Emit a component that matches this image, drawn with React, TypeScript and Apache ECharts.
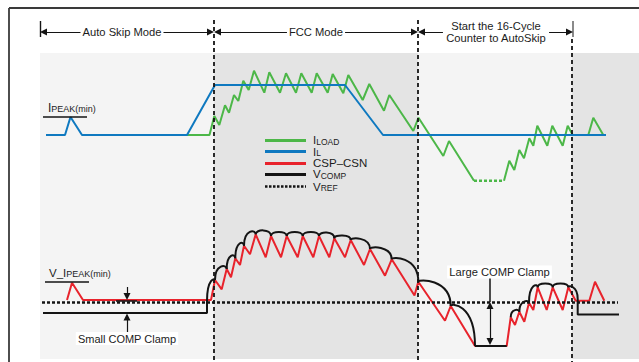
import React, { useEffect, useRef } from "react";
import * as echarts from "echarts";

const W = 639;
const H = 362;
const FONT = "'Liberation Sans', Arial, Helvetica, sans-serif";

// ---------- data (time axis = horizontal units, level axis = vertical units, top = 0) ----------
const modeEdges = [40, 214, 418, 572, 639];
const modeLabels = ["Auto Skip Mode", "FCC Mode", "Start the 16-Cycle\nCounter to AutoSkip"];
const modeLabelX = [122, 316, 496];

const iL = [[46,135],[65,135],[70.5,117],[82,135],[187,135],[215,85],[345,85],[383,135],[606,135]];
const iLoadRise = [[187,135],[209.5,135],[214.3,116],[219.3,125],[225,105.3],[229,112.7],[234,95],[238.3,101],[243.3,80.7],[248.7,90],[254,70.7],[264.3,92.7],[269.3,72.3],[280,92.7],[286,73.3],[296,92.7],[301.3,73.3],[311.7,92.7],[316.7,73.3],[327.7,92.7],[332.7,74],[343.3,93.3],[348.3,75],[362.7,100],[369.3,84],[384,110.7],[389.3,95],[413.3,131],[418.5,117.7],[443.3,156],[449,141],[474,180.7]];
const iLoadSkip = [[474,180.7],[504,180.7]];
const iLoadRecover = [[504,180.7],[509.3,160.7],[514.3,170],[519.3,150],[524,158.3],[529.3,138.3],[533.3,145.7],[537.3,125.7],[547.3,145.7],[552.3,125.7],[562.7,145.7],[567.7,125.7],[572.7,135],[588.3,135],[593.3,117.7],[603.3,135]];

const cspCsn = [[67,300],[72,282.7],[83,300],[211,300],[215,280],[221.7,289.3],[226.7,269],[231,277.3],[235.3,258.3],[240,265],[244,245.7],[250,254.3],[255.7,234.3],[265.7,257.3],[271,236],[281,257.3],[286.7,236],[297.7,257.3],[302.7,236],[313.3,257.3],[319,236],[329.3,257.3],[334.3,238.3],[345,257.3],[350.7,240],[364,265],[370,249],[385,275.7],[391.7,259.3],[414.5,295.5],[418.3,281.7],[445,320.7],[450.7,306],[475,346],[506.7,346],[510.7,317.3],[515,325],[519.3,311.7],[524.3,321.7],[529,302.7],[533.3,310],[537.7,287.3],[546.7,310],[552.7,287.3],[562.7,310],[568.3,287.3],[575.7,300.7],[589.3,300.7],[595,281.7],[604.3,300.7]];

const vCompSkip = [[43,313],[207,313],[207,301]];
const vCompClamp = [[475,346],[506.7,346]];
const vCompExit = [[577.7,299],[577.7,314.5],[619,314.5]];
// [from x, from y, to x, to y, hump height]
const vCompHumps = [
  [207,301,215,280,2],
  [215,280,226.7,269,5],
  [226.7,269,235.3,258.3,5],
  [235.3,258.3,244,245.7,5],
  [244,245.7,255.7,234.3,5],
  [255.7,234.3,271,236,5.5],
  [271,236,286.7,236,5.5],
  [286.7,236,302.7,236,5.5],
  [302.7,236,319,236,5.5],
  [319,236,334.3,238.3,5],
  [334.3,238.3,350.7,240,4],
  [350.7,240,370,249,3],
  [370,249,391.7,259.3,3],
  [391.7,259.3,418.3,281.7,3],
  [418.3,281.7,450.7,306,3],
  [450.7,306,475,346,3],
  [510.7,317.3,519.3,311.7,3],
  [519.3,311.7,529,302.7,3],
  [529,302.7,537.7,287.3,4],
  [537.7,287.3,552.7,287.3,5],
  [552.7,287.3,568.3,287.3,5],
  [568.3,287.3,577.7,299,2],
];
const vRef = [[42,302.5],[618,302.5]];

const legendItems = [
  { main: "I", sub: "LOAD", key: "green" },
  { main: "I", sub: "L", key: "blue" },
  { main: "CSP\u2013CSN", sub: "", key: "red" },
  { main: "V", sub: "COMP", key: "black" },
  { main: "V", sub: "REF", key: "dotted" },
];
const legendRowY = [140, 151.5, 163, 173.8, 186.5];

// ---------- styles ----------
const C = {
  green: "#4cb748",
  blue: "#0f79c0",
  red: "#e8232c",
  black: "#141414",
  text: "#1c1c1c",
  light: "#f4f4f4",
  dark: "#e4e4e4",
};

const PANEL_TOP = 53;
const PANEL_BOTTOM = 359;
const HEAD_Y = 32;
const AH = 7; // arrow head size

let measureCtx: CanvasRenderingContext2D | null = null;
function textWidth(text: string, size: number) {
  if (!measureCtx) measureCtx = document.createElement("canvas").getContext("2d");
  if (!measureCtx) return text.length * size * 0.6;
  measureCtx.font = `${size}px ${FONT}`;
  return measureCtx.measureText(text).width;
}

function lineSeries(data: number[][], color: string, width: number, type: any = "solid", z = 3) {
  return {
    type: "line",
    data,
    showSymbol: false,
    symbol: "none",
    silent: true,
    z,
    lineStyle: { color, width, type },
    animation: false,
  };
}

function segSeries(list: number[][][], color: string, width: number, opts: any = {}) {
  const sym = opts.symbol || "none";
  const inset = (c: number[][]) => {
    const [[x0, y0], [x1, y1]] = c;
    const len = Math.hypot(x1 - x0, y1 - y0) || 1;
    const ux = (x1 - x0) / len;
    const uy = (y1 - y0) / len;
    const s0 = Array.isArray(sym) ? sym[0] !== "none" : sym !== "none";
    const s1 = Array.isArray(sym) ? sym[1] !== "none" : sym !== "none";
    const a0 = s0 ? AH / 2 : 0;
    const a1 = s1 ? AH / 2 : 0;
    return [[x0 + ux * a0, y0 + uy * a0], [x1 - ux * a1, y1 - uy * a1]];
  };
  return {
    type: "lines",
    coordinateSystem: "cartesian2d",
    silent: true,
    z: opts.z ?? 5,
    data: list.map((c) => ({ coords: inset(c) })),
    symbol: sym,
    symbolSize: AH,
    lineStyle: { color, width, opacity: 1, type: opts.type || "solid", curveness: 0 },
    animation: false,
  };
}

function textEl(x: number, y: number, text: string, extra: any = {}) {
  return {
    type: "text",
    x,
    y,
    z: 100,
    silent: true,
    style: {
      text,
      fill: C.text,
      fontSize: 11.2,
      fontFamily: FONT,
      align: "center",
      verticalAlign: "middle",
      ...extra,
    },
  };
}

// main text followed by a lowered, smaller subscript
function subText(x: number, y: number, main: string, sub: string, mainSize = 11.5, subSize = 8.5): any[] {
  const els: any[] = [
    textEl(x, y, main, { align: "left", fontSize: mainSize, lineHeight: 9 }),
  ];
  if (sub) {
    const w = textWidth(main, mainSize);
    els.push(textEl(x + w, y + 1.8, sub, { align: "left", fontSize: subSize, lineHeight: 7 }));
  }
  return els;
}

function buildOption() {
  const bands = modeEdges.slice(0, -1).map((x, i) => [x, modeEdges[i + 1], i % 2]);

  const legendLines: any[] = [];
  legendItems.forEach((it, i) => {
    const coords = [[[265, legendRowY[i]], [306, legendRowY[i]]]];
    if (it.key === "dotted") legendLines.push(segSeries(coords, C.black, 2.5, { type: [2.5, 1.5] }));
    else legendLines.push(segSeries(coords, (C as any)[it.key], 3));
  });

  const series: any[] = [
    {
      type: "custom",
      silent: true,
      z: 0,
      clip: false,
      data: bands,
      renderItem: (_p: any, api: any) => {
        const a = api.coord([api.value(0), PANEL_TOP]);
        const b = api.coord([api.value(1), PANEL_BOTTOM]);
        return {
          type: "rect",
          shape: { x: a[0], y: a[1], width: b[0] - a[0], height: b[1] - a[1] },
          style: { fill: api.value(2) ? C.dark : C.light },
        };
      },
      animation: false,
    },
    // frame
    segSeries([[[9, 8], [W, 8]], [[9, 8], [9, H]]], "#3a3a3a", 1.8, { z: 1 }),
    // header bars
    segSeries([[[40, 21], [40, 37]]], C.black, 1.4),
    segSeries([[[573, 21], [573, 37]]], "#8a8a8a", 2),
    // header arrows
    segSeries(
      modeEdges.slice(0, 3).map((x, i) => [[x, HEAD_Y], [modeEdges[i + 1] + (i === 2 ? 1 : 0), HEAD_Y]]),
      C.black,
      1.1,
      { symbol: ["triangle", "triangle"] }
    ),
    // waveforms
    lineSeries(iLoadRise, C.green, 2),
    lineSeries(iLoadSkip, C.green, 2.5, [3, 2]),
    lineSeries(iLoadRecover, C.green, 2),
    lineSeries(iL, C.blue, 2),
    lineSeries(cspCsn, C.red, 2),
    lineSeries(vRef, C.black, 2.5, [3, 2]),
    lineSeries(vCompSkip, C.black, 2),
    lineSeries(vCompClamp, C.black, 2),
    lineSeries(vCompExit, C.black, 2),
    {
      type: "custom",
      silent: true,
      z: 4,
      clip: false,
      data: vCompHumps,
      encode: { x: [0, 2], y: [1, 3] },
      renderItem: (_p: any, api: any) => {
        const x0 = api.value(0), y0 = api.value(1), x1 = api.value(2), y1 = api.value(3), h = api.value(4);
        const top = Math.min(y0, y1) - h;
        const p0 = api.coord([x0, y0]);
        const p1 = api.coord([x1, y1]);
        const c0 = api.coord([x0, top]);
        const c1 = api.coord([x1, top]);
        return {
          type: "bezierCurve",
          shape: { x1: p0[0], y1: p0[1], x2: p1[0], y2: p1[1], cpx1: c0[0], cpy1: c0[1], cpx2: c1[0], cpy2: c1[1] },
          style: { stroke: C.black, lineWidth: 2, fill: null },
        };
      },
      animation: false,
    },
    // mode boundaries
    segSeries(
      [[[214, 20], [214, H]], [[418, 20], [418, H]], [[572, 39], [572, H]]],
      C.black,
      1.8,
      { type: [4, 3], z: 6 }
    ),
    // I_PEAK(min) / V_IPEAK(min) marks and clamp markers
    segSeries([[[43, 116.5], [87, 116.5]], [[45, 282], [89, 282]], [[116, 300.5], [137, 300.5]], [[490, 278], [490, 302]]], C.black, 1.5),
    segSeries([[[127, 287], [127, 300]], [[127, 334], [127, 313.5]]], C.black, 1.2, { symbol: ["none", "triangle"] }),
    segSeries([[[490, 302], [490, 345]]], C.black, 1.2, { symbol: ["triangle", "triangle"] }),
    ...legendLines,
  ];

  const graphic: any[] = [
    textEl(modeLabelX[0], HEAD_Y, modeLabels[0], { backgroundColor: "#fff", padding: [1, 2] }),
    textEl(modeLabelX[1], HEAD_Y, modeLabels[1], { backgroundColor: "#fff", padding: [1, 2] }),
    textEl(modeLabelX[2], HEAD_Y, modeLabels[2], { backgroundColor: "#fff", padding: [0, 3], lineHeight: 12.5 }),
    ...subText(48, 107.5, "I", "PEAK(min)", 12, 9),
    ...subText(49, 272.5, "V_I", "PEAK(min)", 11.5, 9),
    textEl(127, 338.5, "Small COMP Clamp", { backgroundColor: "#fff", padding: [1, 2], fontSize: 11 }),
    textEl(499.5, 272, "Large COMP Clamp", { backgroundColor: "#fff", padding: [1, 2], fontSize: 11.2 }),
  ];
  legendItems.forEach((it, i) => {
    graphic.push(...subText(313, legendRowY[i], it.main, it.sub, 11.5, 8.5));
  });

  return {
    animation: false,
    backgroundColor: "#fff",
    grid: { left: 0, right: 0, top: 0, bottom: 0 },
    xAxis: { type: "value", min: 0, max: W, show: false },
    yAxis: { type: "value", min: 0, max: H, inverse: true, show: false },
    series,
    graphic,
  };
}

export default function App() {
  const ref = useRef<HTMLDivElement>(null);
  useEffect(() => {
    if (!ref.current) return;
    const chart = echarts.init(ref.current, null, { renderer: "svg" });
    chart.setOption(buildOption() as any);
    return () => chart.dispose();
  }, []);
  return (
    <div
      ref={ref}
      style={{ position: "absolute", left: 0, top: 0, width: W, height: H, background: "#fff" }}
    />
  );
}
